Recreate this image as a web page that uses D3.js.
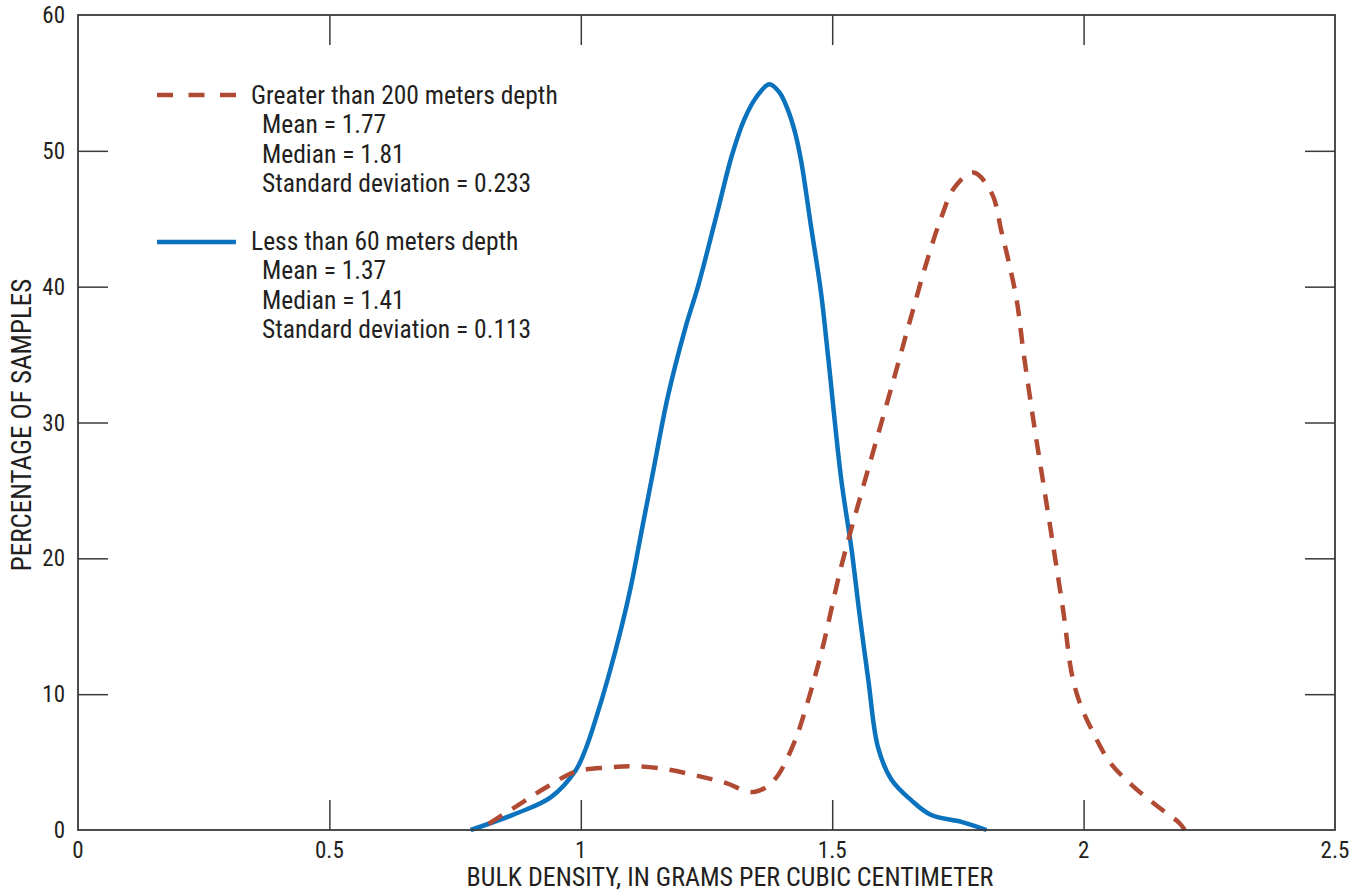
<!DOCTYPE html>
<html><head><meta charset="utf-8">
<script src="https://cdn.jsdelivr.net/npm/d3@7"></script>
<style>
body{margin:0;background:#fff;}
svg text{font-family:"Liberation Sans Narrow","Roboto Condensed","DejaVu Sans Condensed",sans-serif;fill:#231f20;}
</style></head>
<body><svg id="c" width="1366" height="894"></svg>
<script>
const xTicks=[0,0.5,1,1.5,2,2.5];
const xTickLabels=["0","0.5","1","1.5","2","2.5"];
const yTicks=[0,10,20,30,40,50,60];
const yTickLabels=["0","10","20","30","40","50","60"];
const shallowX=[0.781,0.874,0.94,0.99,1.01,1.03,1.055,1.08,1.10,1.124,1.145,1.173,1.209,1.233,1.273,1.30,1.325,1.35,1.375,1.395,1.412,1.425,1.438,1.458,1.478,1.492,1.518,1.538,1.554,1.572,1.591,1.618,1.657,1.697,1.757,1.807];
const shallowY=[0,1.25,2.4,4.4,6.0,8.2,11.3,14.8,18.0,22.6,26.6,31.9,37.1,40.0,45.7,49.6,52.3,54.0,54.9,54.3,53.0,51.5,49.3,44.4,39.5,34.8,25.8,20.8,16.0,11.0,6.1,3.7,2.2,1.1,0.6,0];
const deepX=[0.797,0.874,0.934,0.99,1.054,1.10,1.165,1.225,1.285,1.345,1.385,1.424,1.442,1.478,1.518,1.558,1.588,1.624,1.657,1.691,1.717,1.743,1.781,1.817,1.837,1.85,1.867,1.88,1.900,1.920,1.940,1.960,1.976,1.992,2.020,2.052,2.096,2.145,2.191,2.201];
const deepY=[0,1.8,3.2,4.3,4.6,4.7,4.5,4.05,3.5,2.8,3.7,6.4,8.3,13.0,19.4,24.8,28.7,33.4,37.8,42.2,45.1,47.3,48.4,46.9,44.0,42.0,39.0,35.3,30.2,25.5,20.8,16.0,11.6,9.4,7.1,5.0,3.3,1.8,0.5,0];
const deepLabel="Greater than 200 meters depth";
const deepStats=["Mean = 1.77","Median = 1.81","Standard deviation = 0.233"];
const shallowLabel="Less than 60 meters depth";
const shallowStats=["Mean = 1.37","Median = 1.41","Standard deviation = 0.113"];
const blue="#0b72bd", red="#b04a33";

const svg=d3.select("#c");
const L=78,R=1335,T=15,B=830;
const x=d3.scaleLinear().domain([0,2.5]).range([L,R]);
const y=d3.scaleLinear().domain([0,60]).range([B,T]);
const axc="#3a3a3a";
const tl=30;
const styleTicks=g=>{g.select(".domain").remove();g.selectAll("line").attr("stroke",axc).attr("stroke-width",1.5);};
svg.append("g").attr("transform",`translate(${L},0)`).call(d3.axisRight(y).tickValues(yTicks.slice(1,-1)).tickSize(tl).tickFormat("")).call(styleTicks);
svg.append("g").attr("transform",`translate(${R},0)`).call(d3.axisLeft(y).tickValues(yTicks.slice(1,-1)).tickSize(tl).tickFormat("")).call(styleTicks);
svg.append("g").attr("transform",`translate(0,${B})`).call(d3.axisTop(x).tickValues(xTicks.slice(1,-1)).tickSize(tl).tickFormat("")).call(styleTicks);
svg.append("g").attr("transform",`translate(0,${T})`).call(d3.axisBottom(x).tickValues(xTicks.slice(1,-1)).tickSize(tl).tickFormat("")).call(styleTicks);
// curves
const line=d3.line().x(d=>x(d[0])).y(d=>y(d[1])).curve(d3.curveCatmullRom.alpha(0.5));
svg.append("path").attr("d",line(shallowX.map((v,i)=>[v,shallowY[i]]))).attr("fill","none").attr("stroke",blue).attr("stroke-width",4.5);
const dp=svg.append("path").attr("d",line(deepX.map((v,i)=>[v,deepY[i]]))).attr("fill","none").attr("stroke",red).attr("stroke-width",4.5).attr("stroke-dasharray","16,12");
const len=dp.node().getTotalLength();
dp.attr("stroke-dashoffset",(((16-len)%28)+28)%28);
svg.append("rect").attr("x",L).attr("y",T).attr("width",R-L).attr("height",B-T).attr("fill","none").attr("stroke",axc).attr("stroke-width",1.8);
// labels
svg.append("g").selectAll("text").data(yTicks).join("text").attr("x",L-13).attr("y",d=>y(d)+8).attr("text-anchor","end").attr("font-size",23).text((d,i)=>yTickLabels[i]);
svg.append("g").selectAll("text").data(xTicks).join("text").attr("x",d=>x(d)).attr("y",B+28).attr("text-anchor","middle").attr("font-size",23).text((d,i)=>xTickLabels[i]);
svg.append("text").attr("x",730).attr("y",886).attr("text-anchor","middle").attr("font-size",26).text("BULK DENSITY, IN GRAMS PER CUBIC CENTIMETER");
svg.append("text").attr("transform",`translate(31,425) rotate(-90)`).attr("text-anchor","middle").attr("font-size",27).text("PERCENTAGE OF SAMPLES");
// legend
const fs=25.5;
svg.append("line").attr("x1",157).attr("x2",236).attr("y1",95).attr("y2",95).attr("stroke",red).attr("stroke-width",4.5).attr("stroke-dasharray","16,15.5");
svg.append("text").attr("x",251).attr("y",104).attr("font-size",fs).text(deepLabel);
deepStats.forEach((s,i)=>svg.append("text").attr("x",262).attr("y",133+i*29.5).attr("font-size",fs).text(s));
svg.append("line").attr("x1",157).attr("x2",236).attr("y1",242).attr("y2",242).attr("stroke",blue).attr("stroke-width",4.5);
svg.append("text").attr("x",251).attr("y",250).attr("font-size",fs).text(shallowLabel);
shallowStats.forEach((s,i)=>svg.append("text").attr("x",262).attr("y",279+i*29.5).attr("font-size",fs).text(s));
</script></body></html>
